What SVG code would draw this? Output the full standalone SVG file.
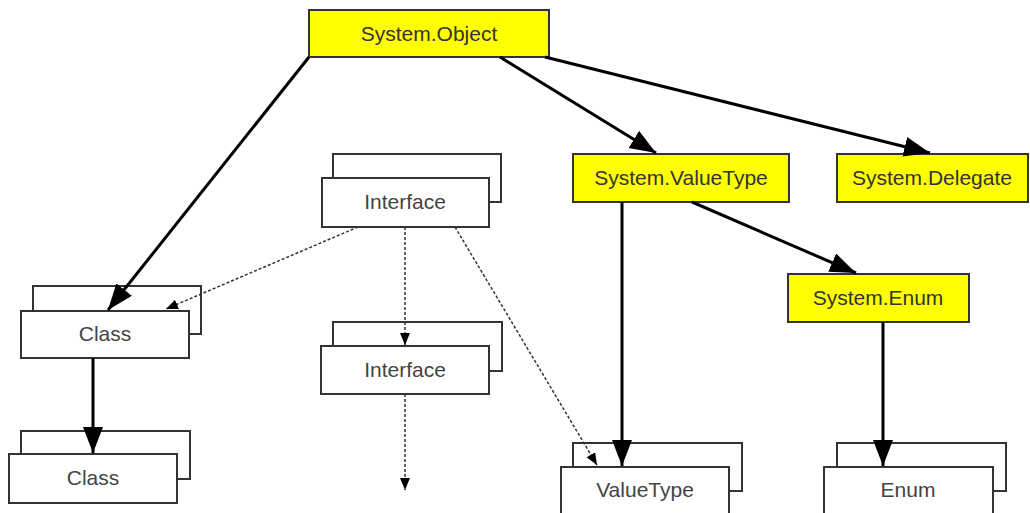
<svg xmlns="http://www.w3.org/2000/svg" width="1030" height="513" viewBox="0 0 1030 513">
<style>
.y{fill:#ffff00;stroke:#333;stroke-width:2}
.w{fill:#fff;stroke:#333;stroke-width:2}
.t{font-family:"Liberation Sans",Arial,sans-serif;font-size:21px;text-anchor:middle;fill:#444}
.ty{font-family:"Liberation Sans",Arial,sans-serif;font-size:21px;text-anchor:middle;fill:#333}
.s{stroke:#000;stroke-width:3;fill:none}
.d{stroke:#333;stroke-width:1.5;fill:none;stroke-dasharray:3,2}
</style>
<defs>
<marker id="big" markerUnits="userSpaceOnUse" markerWidth="28" markerHeight="22" refX="26" refY="10" orient="auto">
<path d="M0,0 L26,10 L0,20 Z" fill="#000"/>
</marker>
<marker id="small" markerUnits="userSpaceOnUse" markerWidth="14" markerHeight="12" refX="12" refY="5" orient="auto">
<path d="M0,0 L12,5 L0,10 Z" fill="#000"/>
</marker>
</defs>
<g id="system-object"><rect class="y" x="309" y="10" width="240" height="47"/><text class="ty" x="429" y="41">System.Object</text></g>
<g id="system-valuetype"><rect class="y" x="573" y="154" width="216" height="48"/><text class="ty" x="681" y="185">System.ValueType</text></g>
<g id="system-delegate"><rect class="y" x="837" y="154" width="191" height="48"/><text class="ty" x="932" y="185">System.Delegate</text></g>
<g id="system-enum"><rect class="y" x="788" y="274" width="181" height="48"/><text class="ty" x="878" y="305">System.Enum</text></g>
<g id="interface-top"><rect class="w" x="333" y="154" width="168" height="48"/><rect class="w" x="322" y="178" width="167" height="49"/><text class="t" x="405" y="209">Interface</text></g>
<g id="interface-mid"><rect class="w" x="333" y="322" width="169" height="49"/><rect class="w" x="321" y="346" width="168" height="48"/><text class="t" x="405" y="377">Interface</text></g>
<g id="class-top"><rect class="w" x="33" y="286" width="168" height="48"/><rect class="w" x="21" y="311" width="168" height="47"/><text class="t" x="105" y="341">Class</text></g>
<g id="class-bottom"><rect class="w" x="21" y="431" width="169" height="48"/><rect class="w" x="9" y="454" width="168" height="49"/><text class="t" x="93" y="485">Class</text></g>
<g id="valuetype"><rect class="w" x="573" y="443" width="169" height="48"/><rect class="w" x="561" y="467" width="168" height="50"/><text class="t" x="645" y="497">ValueType</text></g>
<g id="enum"><rect class="w" x="837" y="443" width="169" height="48"/><rect class="w" x="824" y="467" width="169" height="50"/><text class="t" x="908" y="497">Enum</text></g>
<g id="connectors">
<line class="s" x1="309" y1="57" x2="108" y2="310" marker-end="url(#big)"/>
<line class="s" x1="500" y1="57" x2="656" y2="153" marker-end="url(#big)"/>
<line class="s" x1="545" y1="57" x2="930" y2="153" marker-end="url(#big)"/>
<line class="s" x1="622" y1="202" x2="622" y2="466" marker-end="url(#big)"/>
<line class="s" x1="692" y1="202" x2="856" y2="273" marker-end="url(#big)"/>
<line class="s" x1="883" y1="322" x2="883" y2="466" marker-end="url(#big)"/>
<line class="s" x1="93" y1="358" x2="93" y2="453" marker-end="url(#big)"/>
<line class="d" x1="358" y1="227" x2="166" y2="309" marker-end="url(#small)"/>
<line class="d" x1="405" y1="227" x2="405" y2="345" marker-end="url(#small)"/>
<line class="d" x1="455" y1="227" x2="597" y2="465" marker-end="url(#small)"/>
<line class="d" x1="405" y1="394" x2="405" y2="490" marker-end="url(#small)"/>
</g>
</svg>
